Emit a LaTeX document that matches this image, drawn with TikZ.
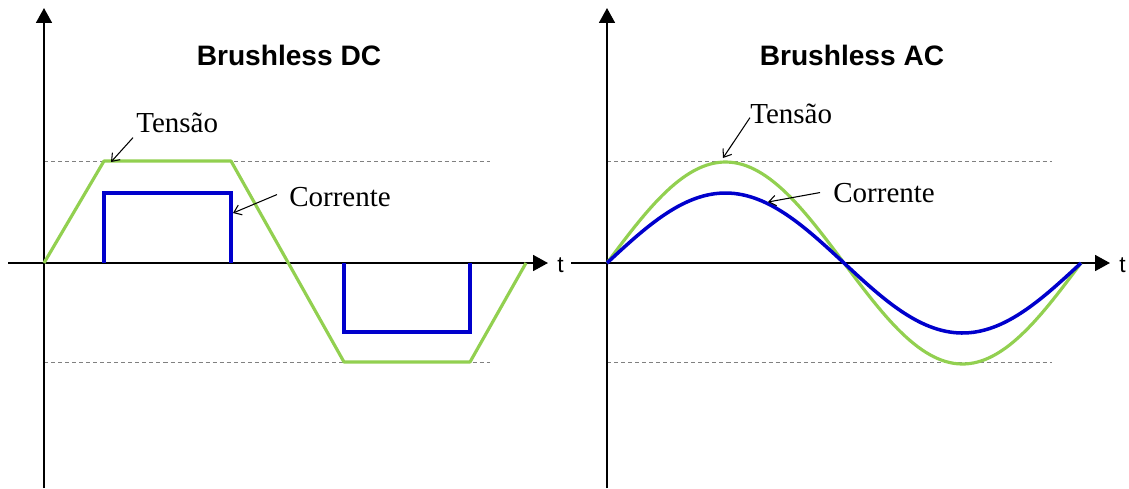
\documentclass[tikz,border=0pt]{standalone}
\usepackage{fontspec}
\setmainfont{Liberation Serif}
\setsansfont{Liberation Sans}
\usetikzlibrary{arrows.meta}
\definecolor{verde}{RGB}{146,208,80}
\definecolor{azul}{RGB}{0,0,204}

\begin{document}
\begin{tikzpicture}[x=0.02cm,y=-0.02cm]
		\tikzset{eixo/.style={line width=1.2pt,-{Triangle[length=8.5pt,width=9pt]}},
			guia/.style={gray,dash pattern=on 2.3pt off 1.7pt,line width=0.5pt},
			tensao/.style={verde,line width=1.8pt,line join=round},
			corrente/.style={azul,line width=2pt},
			seta/.style={line width=0.6pt,-{Straight Barb[length=4pt,width=6pt]}},
			rotulo/.style={font=\fontsize{16.5}{18}\selectfont,inner sep=0pt,anchor=base west},
			titulo/.style={font=\sffamily\bfseries\fontsize{16}{18}\selectfont,inner sep=0pt,anchor=base},
			eixot/.style={font=\sffamily\fontsize{13}{15}\selectfont,inner sep=0pt,anchor=base west}};
		\useasboundingbox (0,0) rectangle (1129,488);
		% Brushless DC
		\draw[guia] (44,161) -- (490,161);
		\draw[guia] (44,362) -- (490,362);
		\draw[eixo] (44,488) -- (44,8);
		\draw[eixo] (8,263) -- (548,263);
		\node[eixot] (tDC) at (557,272) {t};
		\draw[tensao] (44,263) -- (104,161) -- (231,161) -- (344,362) -- (470,362) -- (526,263);
		\draw[corrente] (104,263) -- (104,193) -- (231,193) -- (231,263);
		\draw[corrente] (344,263) -- (344,332) -- (470,332) -- (470,263);
		\node[titulo] (tituloDC) at (289,65) {Brushless DC};
		\node[rotulo] (tensaoDC) at (136,132) {Tensão};
		\node[rotulo] (correnteDC) at (289,206) {Corrente};
		\coordinate (picoDC) at (111,162);
		\coordinate (degrauDC) at (233,213);
		\draw[seta] ([shift={(-3,5)}]tensaoDC.south west) -- (picoDC);
		\draw[seta] ([shift={(-12,-2)}]correnteDC.west) -- (degrauDC);
		% Brushless AC
		\draw[guia] (607,161) -- (1052,161);
		\draw[guia] (607,362) -- (1052,362);
		\draw[eixo] (607,488) -- (607,8);
		\draw[eixo] (571,263) -- (1110,263);
		\node[eixot] (tAC) at (1119,272) {t};
		\draw[tensao] plot[domain=0:360,samples=120] ({607+\x*1.3167},{263-101*sin(\x)});
		\draw[corrente] plot[domain=0:360,samples=120] ({607+\x*1.3167},{263-70*sin(\x)});
		\node[titulo] (tituloAC) at (852,65) {Brushless AC};
		\node[rotulo] (tensaoAC) at (750,123) {Tensão};
		\node[rotulo] (correnteAC) at (833,202) {Corrente};
		\coordinate (picoAC) at (723,158);
		\coordinate (senoAC) at (768,202);
		\draw[seta] ([shift={(0,-6)}]tensaoAC.south west) -- (picoAC);
		\draw[seta] ([shift={(-13,0)}]correnteAC.west) -- (senoAC);
	\end{tikzpicture}
\end{document}
